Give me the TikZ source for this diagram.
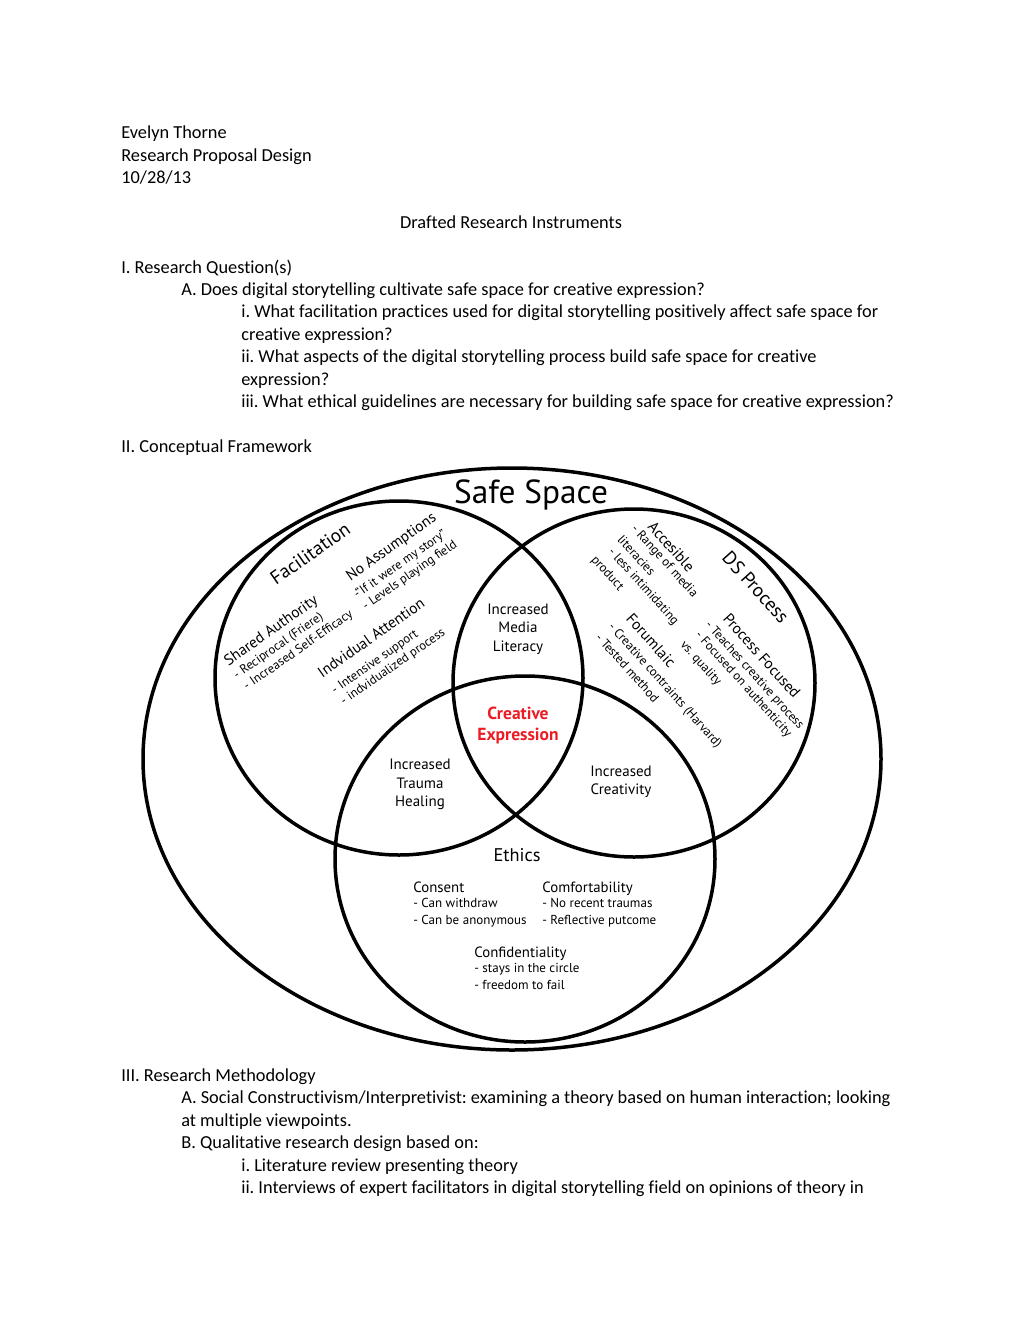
\documentclass[tikz,border=0pt]{standalone}
\usepackage{fontspec}
\setmainfont{Carlito}[Ligatures={NoCommon}]
\newfontfamily\dgfont{PT Sans}
\definecolor{cered}{RGB}{237,28,36}
\frenchspacing
\begin{document}
\begin{tikzpicture}[x=0.6pt,y=-0.6pt,
  body/.style={anchor=base west, inner sep=0pt, font=\fontsize{11}{13}\selectfont},
  circ/.style={line width=2.1pt},
  lt/.style={anchor=west, inner sep=0pt, rotate=35},
  rt/.style={anchor=west, inner sep=0pt, rotate=-48},
  big/.style={font=\dgfont\fontsize{11.5}{13}\selectfont},
  hd/.style={font=\dgfont\fontsize{9.2}{11}\selectfont},
  sb/.style={font=\dgfont\fontsize{7.6}{9}\selectfont},
  mid/.style={anchor=base, inner sep=0pt, font=\dgfont\fontsize{9}{11}\selectfont},
  eh/.style={anchor=base west, inner sep=0pt, font=\dgfont\fontsize{8.9}{10}\selectfont},
  es/.style={anchor=base west, inner sep=0pt, font=\dgfont\fontsize{7.8}{9}\selectfont}]
\useasboundingbox (0,0) rectangle (1020,1320);

% body text
\node[body] (t1) at (121,138) {Evelyn Thorne};
\node[body] (t2) at (121,161) {Research Proposal Design};
\node[body] (t3) at (121,183) {10/28/13};
\node[body, anchor=base] (t4) at (511,228) {Drafted Research Instruments};
\node[body] (t5) at (121,273) {I. Research Question(s)};
\node[body] (t6) at (181,295) {A. Does digital storytelling cultivate safe space for creative expression?};
\node[body] (t7) at (241,317) {i. What facilitation practices used for digital storytelling positively affect safe space for};
\node[body] (t8) at (241,340) {creative expression?};
\node[body] (t9) at (241,362) {ii. What aspects of the digital storytelling process build safe space for creative};
\node[body] (t10) at (241,385) {expression?};
\node[body] (t11) at (241,407) {iii. What ethical guidelines are necessary for building safe space for creative expression?};
\node[body] (t12) at (121,452) {II. Conceptual Framework};
\node[body] (t13) at (121,1081) {III. Research Methodology};
\node[body] (t14) at (181,1103) {A. Social Constructivism/Interpretivist: examining a theory based on human interaction; looking};
\node[body] (t15) at (181,1126) {at multiple viewpoints.};
\node[body] (t16) at (181,1148) {B. Qualitative research design based on:};
\node[body] (t17) at (241,1171) {i. Literature review presenting theory};
\node[body] (t18) at (241,1193) {ii. Interviews of expert facilitators in digital storytelling field on opinions of theory in};

% circles
\draw[circ] (512,759) ellipse [x radius=369, y radius=291];
\draw[circ] (399,678) ellipse [x radius=184, y radius=177];
\draw[circ] (634,683) ellipse [x radius=181, y radius=174];
\draw[circ] (525,859) ellipse [x radius=190, y radius=183];

% titles
\node[anchor=base, inner sep=0pt, font=\dgfont\fontsize{20}{22}\selectfont] (safe) at (531,503) {Safe Space};

% facilitation side
\node[lt, big] (fac) at (272,580) {Facilitation};
\node[lt, hd] (noa) at (348,578) {No Assumptions};
\node[lt, sb] (noa1) at (355,596) {-“If it were my story”};
\node[lt, sb] (noa2) at (364,608) {- Levels playing field};
\node[lt, hd] (sha) at (226,663) {Shared Authority};
\node[lt, sb] (sha1) at (235,677) {- Reciprocal (Friere)};
\node[lt, sb] (sha2) at (245,688) {- Increased Self-Efficacy};
\node[lt, hd] (ind) at (319,674) {Indvidual Attention};
\node[lt, sb] (ind1) at (333,692) {- Intensive support};
\node[lt, sb] (ind2) at (342,703) {- indvidualized process};

% DS process side
\node[rt, hd] (acc) at (651,524) {Accesible};
\node[rt, sb] (acc1) at (633,527) {- Range of media};
\node[rt, sb] (acc2) at (620,537) {literacies};
\node[rt, sb] (acc3) at (610,550) {- less intimidating};
\node[rt, sb] (acc4) at (593,558) {product};
\node[rt, big] (dsp) at (726,554) {DS Process};
\node[rt, hd] (prf) at (726,616) {Process Focused};
\node[rt, sb] (prf1) at (707,623) {- Teaches creative process};
\node[rt, sb] (prf2) at (697,633) {- Focused on authenticity};
\node[rt, sb] (prf3) at (682,643) {vs. quality};
\node[rt, hd] (frm) at (629,616) {Forumlaic};
\node[rt, sb] (frm1) at (610,625) {- Creative contraints (Harvard)};
\node[rt, sb] (frm2) at (598,635) {- Tested method};

% overlaps
\node[mid] (ml1) at (518,614) {Increased};
\node[mid] (ml2) at (518,632) {Media};
\node[mid] (ml3) at (518,651) {Literacy};
\node[mid, font=\dgfont\bfseries\fontsize{10.5}{12}\selectfont, text=cered] (ce1) at (518,719) {Creative};
\node[mid, font=\dgfont\bfseries\fontsize{10.5}{12}\selectfont, text=cered] (ce2) at (518,740) {Expression};
\node[mid] (th1) at (420,769) {Increased};
\node[mid] (th2) at (420,788) {Trauma};
\node[mid] (th3) at (420,806) {Healing};
\node[mid] (cr1) at (621,776) {Increased};
\node[mid] (cr2) at (621,794) {Creativity};

% ethics
\node[anchor=base, inner sep=0pt, font=\dgfont\fontsize{11}{13}\selectfont] (eth) at (517,861) {Ethics};
\node[eh] (con) at (413,892) {Consent};
\node[es] (con1) at (413,907.5) {- Can withdraw};
\node[es] (con2) at (413,924.5) {- Can be anonymous};
\node[eh] (cmf) at (542,892) {Comfortability};
\node[es] (cmf1) at (542,907.5) {- No recent traumas};
\node[es] (cmf2) at (542,924.5) {- Reflective putcome};
\node[eh] (cfd) at (474,957) {Confidentiality};
\node[es] (cfd1) at (474,972.5) {- stays in the circle};
\node[es] (cfd2) at (474,989.5) {- freedom to fail};
\end{tikzpicture}
\end{document}
